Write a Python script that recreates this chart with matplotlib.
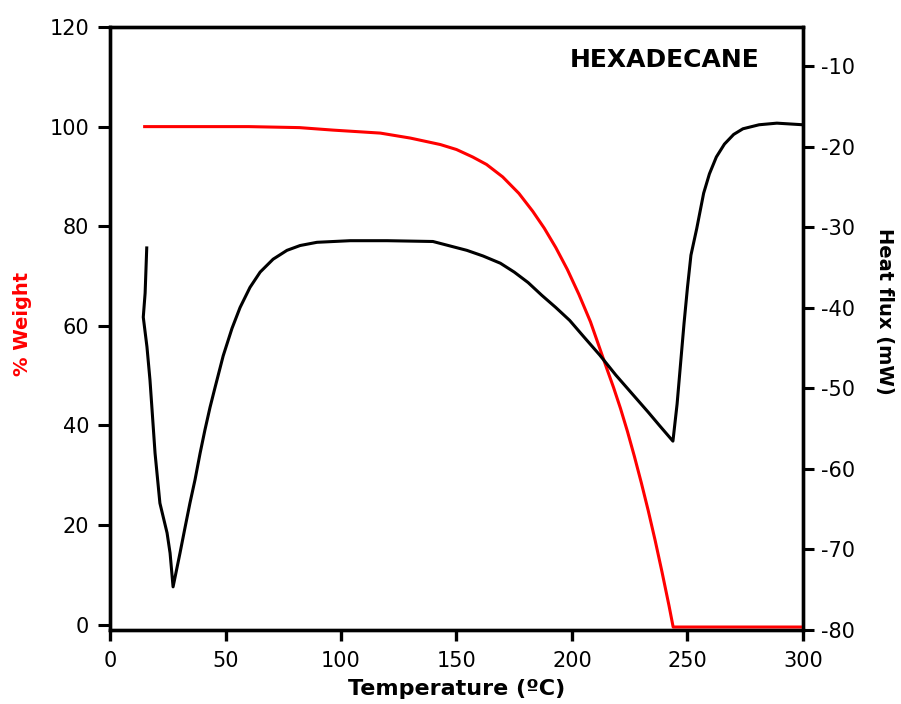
import numpy as np
import matplotlib.pyplot as plt

plt.rcParams['font.family'] = ['DejaVu Sans']
plt.rcParams['axes.unicode_minus'] = False

# TGA weight loss curve (left axis)
temp_w = [15, 40, 60, 82, 96.5, 117, 130, 143, 150, 157, 163, 170, 177, 183,
          188, 193, 198, 203, 208, 212, 215, 218, 221, 224, 227, 230, 233,
          236, 239, 242, 243.8, 250, 275, 300]
weight = [100, 100, 100, 99.8, 99.3, 98.7, 97.7, 96.4, 95.4, 93.9, 92.4, 89.9,
          86.6, 83.0, 79.6, 75.7, 71.3, 66.3, 60.8, 55.5, 51.5, 47.6, 43.4,
          38.8, 33.8, 28.5, 22.9, 16.9, 10.5, 3.8, -0.5, -0.5, -0.5, -0.5]

# DSC heat flux curve (right axis)
temp_h = [15.9, 15.2, 14.4, 16.0, 17.3, 18.2, 19.5, 21.6, 24.7, 26.0, 27.3,
          30.3, 32.5, 34.6, 36.8, 39, 41.1, 43.3, 45.5, 49, 52.8, 56.3, 60.6,
          65, 70.6, 76.6, 82.3, 89.6, 104, 120, 139.8, 154.5, 161.5, 169,
          175, 181, 187, 193, 199, 205, 212, 219, 226, 233, 238, 243.7,
          245.5, 247, 248.5, 250, 251.5, 254, 255.5, 257, 259.5, 262.5, 266,
          270, 274, 281, 288.7, 300]
heat_flux = [-32.6, -38.2, -41.2, -44.9, -49, -52.7, -58.1, -64.3, -68, -70.5,
             -74.7, -70.5, -67.3, -64.3, -61.4, -58.1, -55.2, -52.4, -49.9,
             -46.0, -42.6, -40.0, -37.5, -35.6, -34.0, -32.9, -32.3, -31.9,
             -31.7, -31.7, -31.8, -32.9, -33.6, -34.5, -35.6, -36.9, -38.5,
             -40.0, -41.6, -43.6, -45.9, -48.4, -50.7, -53.0, -54.7, -56.6,
             -52.0, -47.0, -42.0, -37.5, -33.5, -30.2, -28.0, -25.8, -23.4,
             -21.3, -19.7, -18.5, -17.8, -17.3, -17.1, -17.3]

x_ticks = [0, 50, 100, 150, 200, 250, 300]
w_ticks = [0, 20, 40, 60, 80, 100, 120]
h_ticks = [-80, -70, -60, -50, -40, -30, -20, -10]

fig = plt.figure(figsize=(9.01, 7.04), dpi=100)
ax = fig.add_axes([0.1221, 0.1051, 0.7691, 0.8565])
ax2 = ax.twinx()

ax.plot(temp_w, weight, color='#ff0000', linewidth=2.2, zorder=3,
        solid_joinstyle='round')
ax2.plot(temp_h, heat_flux, color='black', linewidth=2.2,
         solid_joinstyle='round')

ax.set_xlim(0, 300)
ax.set_ylim(-1.1, 120)
ax2.set_ylim(-80.06, -5.16)
ax.set_xticks(x_ticks)
ax.set_yticks(w_ticks)
ax2.set_yticks(h_ticks)

for a in (ax, ax2):
    for s in a.spines.values():
        s.set_linewidth(2.4)
ax.tick_params(axis='x', direction='out', length=8, width=2.4, pad=7, labelsize=15)
ax.tick_params(axis='y', direction='out', length=9, width=2.2, pad=6, labelsize=15)
ax2.tick_params(axis='y', direction='out', length=8, width=2.2, pad=5, labelsize=15)

ax.set_xlabel('Temperature (ºC)', fontsize=16, fontweight='bold', labelpad=6)
ax.set_ylabel('% Weight', fontsize=14, fontweight='bold', color='#ff0000')
ax.yaxis.set_label_coords(-0.112, 0.507)
ax2.set_ylabel('Heat flux (mW)', fontsize=14, fontweight='bold', rotation=270)
ax2.yaxis.set_label_coords(1.132, 0.529)

ax.text(0.801, 0.945, 'HEXADECANE', transform=ax.transAxes, fontsize=18,
        fontweight='bold', ha='center', va='center')

fig.savefig('out.png', dpi=100)
